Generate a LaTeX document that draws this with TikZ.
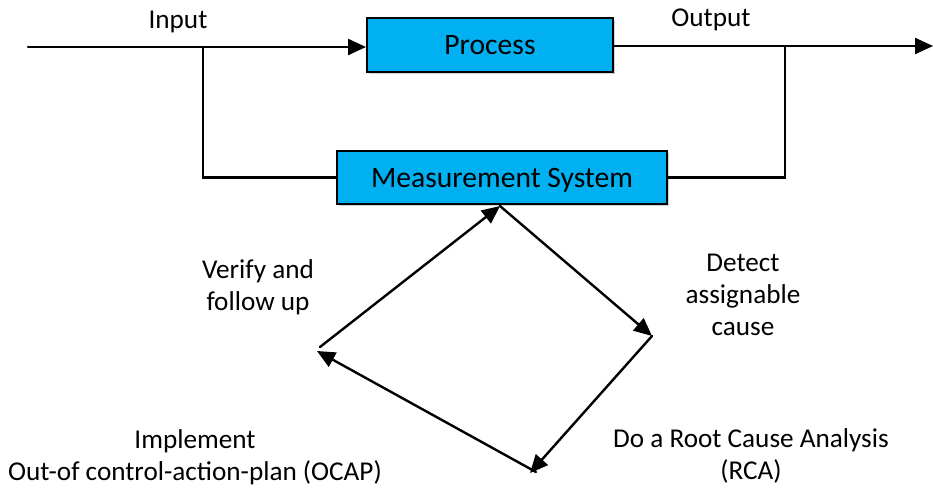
\documentclass[tikz,border=0pt]{standalone}
\usepackage{fontspec}
\setmainfont{Carlito}
\usetikzlibrary{arrows.meta,shadows}
\definecolor{boxcyan}{HTML}{00B0F0}
\tikzset{
  x=0.5pt, y=-0.5pt,
  procbox/.style={draw=black, line width=1pt, fill=boxcyan, inner sep=0pt,
    text depth=0pt, font=\fontsize{14.8}{17}\selectfont,
    drop shadow={opacity=0.35, shadow xshift=1.2pt, shadow yshift=-1.2pt}},
  lbl/.style={align=center, inner sep=0pt, font=\fontsize{13.6}{16}\selectfont},
  wire/.style={line width=1.2pt, line cap=round},
  flow/.style={wire, -{Triangle[length=9pt,width=8pt]}}
}
\begin{document}
\begin{tikzpicture}
\useasboundingbox (0,0) rectangle (933,488);

% main blocks
\node[procbox, minimum width=123pt, minimum height=27pt] (proc) at (490,45) {Process};
\node[procbox, minimum width=165pt, minimum height=26.5pt] (meas) at (502,177.5) {Measurement System};

% input / output lines and the measurement loop
\coordinate (in) at (28,47);
\coordinate (out) at (933,46);
\coordinate (tapin) at (203,47);
\coordinate (tapout) at (785,46);
\draw[flow] (in) -- (proc.west |- in);
\draw[flow] (proc.east |- out) -- (out);
\draw[wire] (tapin) |- (meas.west);
\draw[wire] (tapout) |- (meas.east);

% improvement cycle
\coordinate (top) at (500,206);
\coordinate (rgt) at (652,336);
\coordinate (bot) at (530,473);
\coordinate (lft) at (317,351);
\coordinate (lfts) at (320,347);
\coordinate (bots) at (536,472);
\draw[flow] (lfts) -- (top);
\draw[flow] (top) -- (rgt);
\draw[flow] (rgt) -- (bot);
\draw[flow] (bots) -- (lft);

% labels
\node[lbl] (linput) at (178,22) {Input};
\node[lbl] (loutput) at (711,20) {Output};
\node[lbl] (lverify) at (258,287) {Verify and\\follow up};
\node[lbl] (ldetect) at (743,295) {Detect\\assignable\\cause};
\node[lbl] (lrca) at (751,456) {Do a Root Cause Analysis\\(RCA)};
\node[lbl] (locap) at (195,457) {Implement\\Out-of control-action-plan (OCAP)};
\end{tikzpicture}
\end{document}
